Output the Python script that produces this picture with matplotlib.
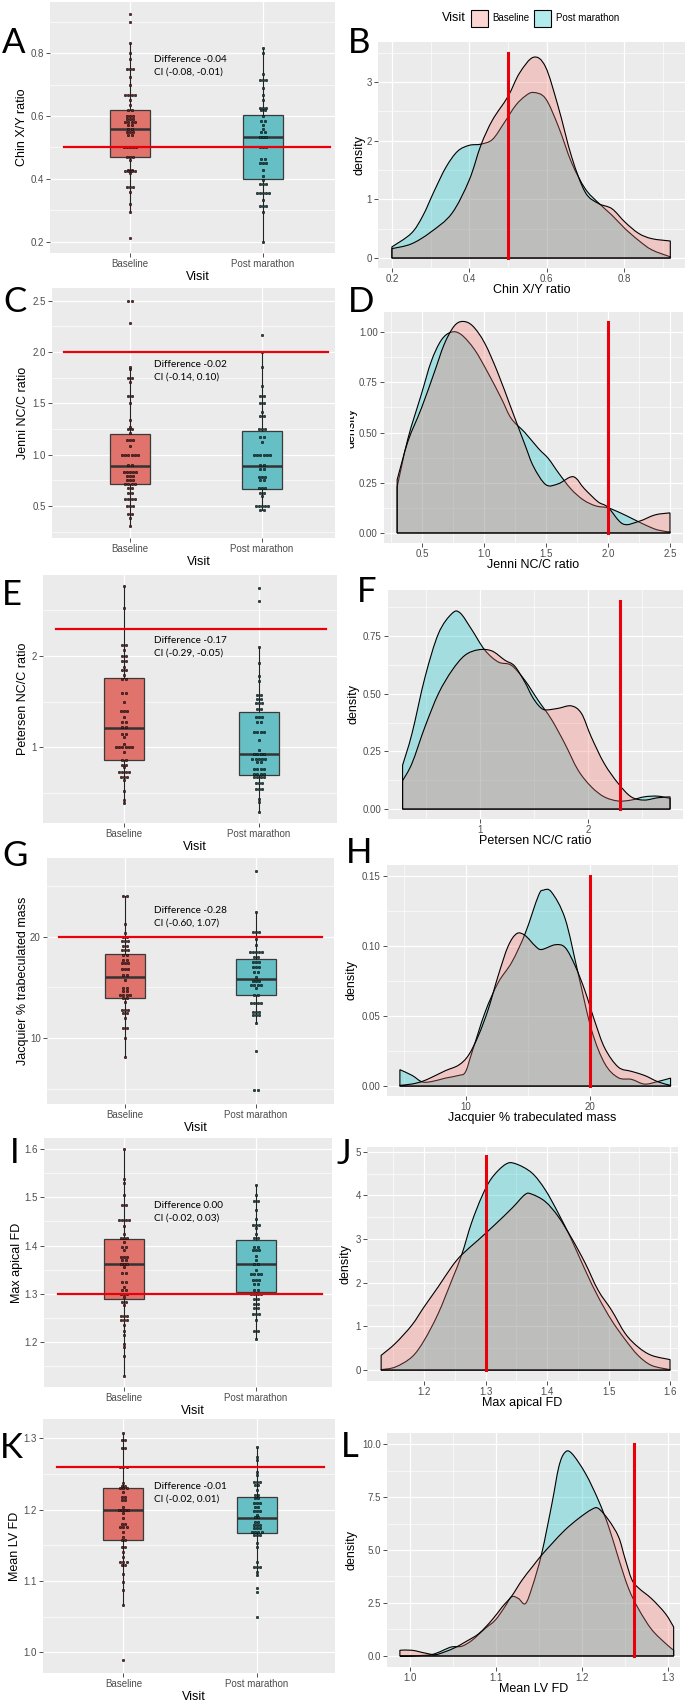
import matplotlib
matplotlib.use("Agg")
import matplotlib.pyplot as plt
from matplotlib.ticker import AutoMinorLocator, FormatStrFormatter
from matplotlib.patches import Rectangle, PathPatch
from matplotlib.path import Path
from matplotlib.colors import to_rgba
import numpy as np

plt.rcParams["font.family"] = ["Liberation Sans", "DejaVu Sans"]

W, H = 689, 1702
visits = ["Baseline", "Post marathon"]

# ---------------- box / dot panels ----------------
# dot values and how many dots are stacked at that value
chin_base_vals = [0.923, 0.898, 0.833, 0.80, 0.78, 0.75, 0.725, 0.70, 0.667, 0.65, 0.635, 0.62, 0.60, 0.59, 0.58,
                  0.57, 0.56, 0.55, 0.54, 0.50, 0.47, 0.46, 0.43, 0.425, 0.42, 0.375, 0.36, 0.32, 0.295, 0.214]
chin_base_n = [1, 1, 1, 1, 1, 3, 1, 1, 4, 1, 1, 2, 3, 3, 4, 2, 2, 3, 2, 5, 3, 1, 2, 4, 1, 3, 1, 1, 1, 1]
chin_post_vals = [0.817, 0.80, 0.734, 0.713, 0.69, 0.666, 0.65, 0.627, 0.618, 0.60, 0.585, 0.57, 0.56, 0.55, 0.533,
                  0.50, 0.465, 0.45, 0.43, 0.41, 0.396, 0.385, 0.356, 0.333, 0.313, 0.295, 0.20]
chin_post_n = [1, 1, 1, 3, 1, 1, 1, 3, 2, 1, 2, 1, 1, 2, 3, 3, 2, 3, 1, 1, 1, 3, 5, 1, 3, 1, 1]
# box stats: lower whisker, q1, median, q3, upper whisker
chin_box_base = [0.295, 0.47, 0.56, 0.618, 0.833]
chin_box_post = [0.20, 0.40, 0.533, 0.602, 0.817]

jenni_base_vals = [2.5, 2.286, 1.857, 1.83, 1.75, 1.71, 1.57, 1.5, 1.333, 1.27, 1.25, 1.21, 1.143, 1.08, 1.0, 0.9,
                   0.83, 0.79, 0.75, 0.71, 0.67, 0.625, 0.57, 0.5, 0.42, 0.38, 0.3]
jenni_base_n = [2, 1, 1, 1, 2, 1, 2, 1, 1, 1, 2, 1, 3, 1, 6, 2, 5, 3, 3, 4, 2, 2, 4, 3, 2, 1, 1]
jenni_post_vals = [2.167, 2.0, 1.857, 1.667, 1.57, 1.5, 1.42, 1.375, 1.25, 1.167, 1.125, 1.0, 0.9, 0.857, 0.778,
                   0.75, 0.67, 0.63, 0.6, 0.5, 0.46]
jenni_post_n = [1, 1, 1, 1, 2, 2, 1, 2, 3, 2, 1, 6, 2, 2, 3, 2, 3, 2, 1, 5, 2]
jenni_box_base = [0.3, 0.71, 0.893, 1.2, 1.857]
jenni_box_post = [0.46, 0.666, 0.893, 1.23, 2.0]

pet_base_vals = [2.77, 2.526, 2.12, 2.066, 2.0, 1.94, 1.88, 1.846, 1.79, 1.75, 1.59, 1.5, 1.4, 1.33, 1.275, 1.22,
                 1.147, 1.11, 1.037, 1.0, 0.945, 0.853, 0.805, 0.78, 0.725, 0.667, 0.64, 0.52, 0.42, 0.38]
pet_base_n = [1, 1, 2, 1, 2, 2, 1, 2, 1, 2, 2, 1, 3, 1, 2, 2, 2, 1, 1, 6, 1, 2, 2, 1, 4, 3, 1, 1, 1, 1]
pet_post_vals = [2.746, 2.607, 2.096, 1.92, 1.78, 1.724, 1.57, 1.53, 1.48, 1.42, 1.33, 1.275, 1.165, 1.074, 0.963,
                 0.926, 0.87, 0.835, 0.76, 0.706, 0.667, 0.6, 0.54, 0.43, 0.393, 0.283]
pet_post_n = [1, 1, 1, 1, 1, 1, 2, 2, 3, 2, 3, 2, 4, 1, 1, 4, 5, 2, 4, 4, 4, 3, 3, 1, 1, 1]
pet_box_base = [0.38, 0.853, 1.21, 1.76, 2.77]
pet_box_post = [0.283, 0.69, 0.926, 1.386, 2.096]

jac_base_vals = [24.03, 21.3, 20.4, 20.0, 19.6, 19.1, 18.7, 18.2, 17.7, 17.4, 16.8, 16.2, 15.7, 14.9, 14.6, 14.26,
                 14.0, 13.6, 12.8, 12.46, 11.97, 11.0, 10.0, 8.13]
jac_base_n = [2, 1, 1, 2, 3, 2, 3, 2, 2, 3, 3, 2, 1, 2, 2, 4, 2, 1, 3, 2, 1, 2, 1, 1]
jac_post_vals = [26.56, 22.46, 20.5, 19.8, 19.2, 18.5, 18.0, 17.5, 17.05, 16.56, 16.07, 15.6, 15.25, 14.9, 14.26,
                 13.44, 12.6, 12.3, 11.5, 8.7, 4.9]
jac_post_n = [1, 1, 3, 1, 1, 5, 2, 3, 3, 2, 1, 3, 4, 1, 2, 4, 3, 3, 1, 1, 2]
jac_box_base = [8.13, 13.93, 16.07, 18.26, 24.03]
jac_box_post = [11.5, 14.26, 15.84, 17.8, 22.46]

apical_base_vals = [1.6, 1.538, 1.53, 1.505, 1.484, 1.454, 1.44, 1.425, 1.415, 1.408, 1.398, 1.39, 1.377, 1.37,
                    1.361, 1.356, 1.343, 1.325, 1.314, 1.307, 1.3, 1.294, 1.283, 1.276, 1.255, 1.245, 1.235, 1.224,
                    1.214, 1.197, 1.19, 1.172, 1.13]
apical_base_n = [1, 1, 1, 1, 2, 4, 1, 1, 3, 1, 2, 1, 3, 2, 3, 1, 2, 2, 1, 2, 3, 1, 2, 1, 3, 3, 1, 1, 1, 1, 1, 1, 1]
apical_post_vals = [1.526, 1.505, 1.493, 1.474, 1.456, 1.443, 1.436, 1.425, 1.415, 1.398, 1.39, 1.378, 1.37, 1.361,
                    1.35, 1.341, 1.328, 1.321, 1.307, 1.3, 1.29, 1.28, 1.27, 1.259, 1.245, 1.224, 1.207]
apical_post_n = [1, 1, 2, 1, 1, 3, 1, 1, 2, 2, 3, 1, 1, 2, 1, 4, 3, 2, 2, 4, 2, 2, 2, 3, 1, 2, 1]
apical_box_base = [1.13, 1.29, 1.361, 1.414, 1.6]
apical_box_post = [1.207, 1.304, 1.361, 1.412, 1.526]

lv_base_vals = [1.308, 1.298, 1.286, 1.26, 1.237, 1.233, 1.23, 1.225, 1.218, 1.214, 1.204, 1.2, 1.195, 1.188, 1.18,
                1.176, 1.169, 1.161, 1.157, 1.148, 1.141, 1.134, 1.127, 1.122, 1.11, 1.098, 1.087, 1.066, 0.989]
lv_base_n = [1, 2, 2, 3, 1, 2, 3, 1, 2, 2, 1, 4, 1, 1, 2, 3, 1, 1, 2, 2, 1, 1, 3, 2, 1, 1, 1, 1, 1]
lv_post_vals = [1.288, 1.274, 1.27, 1.253, 1.249, 1.239, 1.235, 1.228, 1.22, 1.216, 1.209, 1.204, 1.198, 1.193,
                1.189, 1.183, 1.179, 1.174, 1.169, 1.165, 1.153, 1.148, 1.127, 1.12, 1.113, 1.108, 1.09, 1.085, 1.05]
lv_post_n = [1, 1, 1, 1, 1, 3, 2, 1, 2, 2, 3, 2, 3, 1, 2, 2, 3, 3, 4, 3, 1, 1, 1, 3, 1, 1, 1, 1, 1]
lv_box_base = [1.066, 1.157, 1.2, 1.23, 1.308]
lv_box_post = [1.108, 1.167, 1.188, 1.217, 1.288]

# reference lines and difference notes
ref_values = [0.5, 2.0, 2.3, 20, 1.3, 1.26]
notes = ["Difference -0.04\nCI (-0.08, -0.01)",
         "Difference -0.02\nCI (-0.14, 0.10)",
         "Difference -0.17\nCI (-0.29, -0.05)",
         "Difference -0.28\nCI (-0.60, 1.07)",
         "Difference 0.00\nCI (-0.02, 0.03)",
         "Difference -0.01\nCI (-0.02, 0.01)"]
measures = ["Chin X/Y ratio", "Jenni NC/C ratio", "Petersen NC/C ratio",
            "Jacquier % trabeculated mass", "Max apical FD", "Mean LV FD"]

# ---------------- density curves ----------------
chin_kx_base = [0.20, 0.25, 0.30, 0.355, 0.40, 0.43, 0.46, 0.50, 0.53, 0.566, 0.597, 0.63, 0.665, 0.70, 0.734,
                0.769, 0.803, 0.838, 0.872, 0.92]
chin_ky_base = [0.16, 0.24, 0.44, 0.76, 1.33, 1.92, 2.35, 2.75, 3.15, 3.42, 3.26, 2.58, 1.72, 1.12, 0.93,
                0.84, 0.61, 0.42, 0.33, 0.29]
chin_kx_post = [0.20, 0.25, 0.28, 0.31, 0.34, 0.37, 0.40, 0.43, 0.46, 0.49, 0.52, 0.545, 0.566, 0.597, 0.63,
                0.665, 0.70, 0.734, 0.769, 0.803, 0.838, 0.872, 0.92]
chin_ky_post = [0.19, 0.42, 0.72, 1.15, 1.55, 1.82, 1.92, 1.94, 2.02, 2.30, 2.60, 2.76, 2.82, 2.72, 2.25,
                1.62, 1.18, 0.94, 0.73, 0.50, 0.30, 0.14, 0.02]

jenni_kx_base = [0.30, 0.387, 0.495, 0.60, 0.68, 0.76, 0.83, 0.91, 1.006, 1.11, 1.22, 1.33, 1.40, 1.50, 1.60,
                 1.72, 1.81, 1.92, 2.0, 2.12, 2.25, 2.38, 2.5]
jenni_ky_base = [0.265, 0.456, 0.62, 0.80, 0.94, 1.03, 1.053, 1.03, 0.945, 0.80, 0.62, 0.44, 0.33, 0.24, 0.245,
                 0.28, 0.22, 0.155, 0.128, 0.045, 0.058, 0.09, 0.10]
jenni_kx_post = [0.30, 0.387, 0.495, 0.575, 0.656, 0.737, 0.818, 0.925, 1.03, 1.14, 1.22, 1.33, 1.44, 1.52, 1.60,
                 1.70, 1.80, 1.90, 2.0, 2.1, 2.2, 2.3, 2.4, 2.5]
jenni_ky_post = [0.23, 0.47, 0.69, 0.854, 0.96, 1.00, 0.987, 0.912, 0.80, 0.67, 0.57, 0.50, 0.42, 0.37, 0.30,
                 0.22, 0.165, 0.135, 0.125, 0.10, 0.07, 0.04, 0.015, 0.005]

pet_kx_base = [0.283, 0.37, 0.49, 0.615, 0.74, 0.86, 0.985, 1.11, 1.23, 1.32, 1.415, 1.48, 1.54, 1.60, 1.72,
               1.846, 1.94, 2.03, 2.15, 2.28, 2.40, 2.52, 2.645, 2.76]
pet_ky_base = [0.123, 0.198, 0.356, 0.50, 0.60, 0.666, 0.69, 0.685, 0.645, 0.62, 0.55, 0.49, 0.45, 0.43, 0.436,
               0.447, 0.414, 0.313, 0.198, 0.111, 0.053, 0.039, 0.049, 0.053]
pet_kx_post = [0.283, 0.37, 0.49, 0.615, 0.74, 0.815, 0.92, 1.046, 1.17, 1.29, 1.415, 1.54, 1.66, 1.785, 1.908,
               2.03, 2.15, 2.28, 2.40, 2.52, 2.645, 2.76]
pet_ky_post = [0.19, 0.327, 0.57, 0.76, 0.847, 0.85, 0.78, 0.688, 0.637, 0.623, 0.558, 0.47, 0.39, 0.284, 0.169,
               0.097, 0.053, 0.035, 0.039, 0.053, 0.056, 0.046]

jac_kx_base = [4.67, 5.66, 6.46, 7.27, 8.34, 9.41, 10.2, 11.0, 11.8, 12.6, 13.4, 14.1, 14.77, 15.6, 16.1, 17.2,
               18.0, 18.8, 19.6, 20.4, 21.2, 22.28, 23.35, 24.4, 25.5, 26.5]
jac_ky_base = [0.0005, 0.0015, 0.0033, 0.0064, 0.011, 0.015, 0.022, 0.036, 0.055, 0.079, 0.10, 0.109, 0.1076,
               0.10, 0.0976, 0.101, 0.099, 0.086, 0.068, 0.046, 0.027, 0.0136, 0.0105, 0.0076, 0.003, 0.0005]
jac_kx_post = [4.67, 5.66, 6.46, 7.27, 8.34, 9.41, 9.95, 10.48, 11.55, 12.6, 13.7, 14.77, 15.84, 16.25, 16.9, 18.0,
               19.06, 20.13, 21.2, 22.28, 23.35, 24.4, 25.5, 26.5]
jac_ky_post = [0.0117, 0.0076, 0.003, 0.0033, 0.0057, 0.0076, 0.01, 0.024, 0.053, 0.074, 0.0886, 0.109, 0.136,
               0.140, 0.1386, 0.1195, 0.08, 0.04, 0.016, 0.006, 0.0048, 0.0014, 0.0033, 0.0057]

apical_kx_base = [1.130, 1.153, 1.18, 1.20, 1.223, 1.245, 1.261, 1.288, 1.315, 1.343, 1.364, 1.375, 1.397, 1.418,
                  1.44, 1.462, 1.483, 1.505, 1.527, 1.548, 1.57, 1.60]
apical_ky_base = [0.337, 0.61, 1.03, 1.45, 1.91, 2.37, 2.64, 2.98, 3.33, 3.71, 4.02, 4.03, 3.86, 3.52, 3.02, 2.45,
                  1.83, 1.37, 0.84, 0.53, 0.337, 0.24]
apical_kx_post = [1.130, 1.153, 1.18, 1.20, 1.223, 1.245, 1.261, 1.277, 1.294, 1.31, 1.332, 1.348, 1.375, 1.397,
                  1.418, 1.44, 1.462, 1.483, 1.505, 1.527, 1.548, 1.57, 1.60]
apical_ky_post = [0.01, 0.07, 0.30, 0.68, 1.3, 2.06, 2.64, 3.37, 3.98, 4.40, 4.71, 4.73, 4.52, 4.13, 3.6, 2.98,
                  2.29, 1.68, 1.14, 0.70, 0.337, 0.107, 0.01]

lv_kx_base = [0.988, 1.002, 1.017, 1.029, 1.04, 1.052, 1.064, 1.08, 1.095, 1.107, 1.118, 1.13, 1.142, 1.153, 1.165,
              1.18, 1.196, 1.211, 1.219, 1.231, 1.2425, 1.25, 1.258, 1.266, 1.281, 1.297, 1.3066]
lv_ky_base = [0.27, 0.27, 0.14, 0.06, 0.19, 0.39, 0.66, 1.06, 1.69, 2.31, 2.82, 3.57, 4.2, 4.76, 5.3, 5.94, 6.49,
              6.91, 6.96, 6.41, 5.62, 4.6, 3.6, 3.2, 2.7, 2.0, 1.37]
lv_kx_post = [0.988, 1.017, 1.029, 1.04, 1.0485, 1.06, 1.072, 1.087, 1.099, 1.11, 1.118, 1.126, 1.134, 1.142, 1.153,
              1.165, 1.173, 1.18, 1.188, 1.204, 1.219, 1.231, 1.2425, 1.254, 1.266, 1.281, 1.297, 1.3066]
lv_ky_post = [0.0, 0.03, 0.11, 0.3, 0.43, 0.46, 0.74, 1.29, 1.69, 2.31, 2.79, 2.71, 2.47, 3.26, 4.83, 7.2, 8.93,
              9.6, 9.56, 8.61, 7.35, 6.1, 4.6, 3.2, 2.2, 1.25, 0.6, 0.27]

dens_ref_top = [3.5, 1.05, 0.9, 0.15, 4.9, 10.0]

# ---------------- styling ----------------
BG = "#EBEBEB"
PINK = "#F8766D"
TEAL = "#00BFC4"
RED = "#E8000B"
BOX_FILL = ["#E0736C", "#66BFC4"]
DOT_FILL = ["#6a2a27", "#1d4e50"]
ALPHA = 0.3

fig = plt.figure(figsize=(W / 100, H / 100), dpi=100)


def rect(x0, y0, x1, y1):
    return [x0 / W, 1 - y1 / H, (x1 - x0) / W, (y1 - y0) / H]


def ftext(x, y, s, **kw):
    fig.text(x / W, 1 - y / H, s, **kw)


def style(ax):
    ax.set_facecolor(BG)
    for s in ax.spines.values():
        s.set_visible(False)
    ax.grid(which="major", color="white", lw=0.9)
    ax.grid(which="minor", color="white", lw=0.45)
    ax.set_axisbelow(True)
    ax.tick_params(which="major", length=3, width=0.6, color="#333333", labelsize=7,
                   labelcolor="#4D4D4D", pad=1.5)
    ax.tick_params(which="minor", length=0)


def density_patch(xs, ys, color):
    # closed outline: base line, then smooth curve through the read points
    pts = np.column_stack([xs, ys])
    verts = [(xs[0], 0.0), (xs[0], ys[0])]
    codes = [Path.MOVETO, Path.LINETO]
    n = len(pts)
    for k in range(n - 1):
        p0 = pts[max(k - 1, 0)]
        p1, p2 = pts[k], pts[k + 1]
        p3 = pts[min(k + 2, n - 1)]
        c1 = p1 + (p2 - p0) / 6
        c2 = p2 - (p3 - p1) / 6
        verts += [tuple(c1), tuple(c2), tuple(p2)]
        codes += [Path.CURVE4] * 3
    verts += [(xs[-1], 0.0), (xs[0], 0.0)]
    codes += [Path.LINETO, Path.CLOSEPOLY]
    return PathPatch(Path(verts, codes), facecolor=to_rgba(color, ALPHA), edgecolor="black", lw=0.8, zorder=2)


# left column: panel pixel boxes, limits, ticks
box_layout = [
    dict(box=(50, 2, 335, 253), xlim=(0.398, 2.541), ylim=(0.165, 0.962), yticks=[0.2, 0.4, 0.6, 0.8], fmt="%.1f",
         ylab_x=22, note=(154, 55)),
    dict(box=(52, 288, 335, 538), xlim=(0.409, 2.553), ylim=(0.187, 2.624), yticks=[0.5, 1.0, 1.5, 2.0, 2.5],
         fmt="%.1f", ylab_x=23, note=(154, 360)),
    dict(box=(43, 575, 337, 823), xlim=(0.40, 2.578), ylim=(0.165, 2.89), yticks=[1, 2], fmt="%d",
         ylab_x=23, note=(154, 636)),
    dict(box=(47, 858, 334, 1104), xlim=(0.405, 2.595), ylim=(3.47, 27.8), yticks=[10, 20], fmt="%d",
         ylab_x=23, note=(154, 906)),
    dict(box=(44, 1138, 332, 1387), xlim=(0.394, 2.576), ylim=(1.107, 1.623), yticks=[1.2, 1.3, 1.4, 1.5, 1.6],
         fmt="%.1f", ylab_x=17, note=(154, 1201)),
    dict(box=(43, 1419, 335, 1673), xlim=(0.398, 2.586), ylim=(0.971, 1.327), yticks=[1.0, 1.1, 1.2, 1.3],
         fmt="%.1f", ylab_x=15, note=(154, 1482)),
]
box_data = [
    ((chin_base_vals, chin_base_n), (chin_post_vals, chin_post_n), chin_box_base, chin_box_post),
    ((jenni_base_vals, jenni_base_n), (jenni_post_vals, jenni_post_n), jenni_box_base, jenni_box_post),
    ((pet_base_vals, pet_base_n), (pet_post_vals, pet_post_n), pet_box_base, pet_box_post),
    ((jac_base_vals, jac_base_n), (jac_post_vals, jac_post_n), jac_box_base, jac_box_post),
    ((apical_base_vals, apical_base_n), (apical_post_vals, apical_post_n), apical_box_base, apical_box_post),
    ((lv_base_vals, lv_base_n), (lv_post_vals, lv_post_n), lv_box_base, lv_box_post),
]

dens_layout = [
    dict(box=(378, 42, 685, 268), xlim=(0.164, 0.958), ylim=(-0.17, 3.68), xticks=[0.2, 0.4, 0.6, 0.8],
         yticks=[0, 1, 2, 3], xfmt="%.1f", yfmt="%d", ylab_x=359),
    dict(box=(384, 312, 683, 543), xlim=(0.194, 2.605), ylim=(-0.05, 1.10), xticks=[0.5, 1.0, 1.5, 2.0, 2.5],
         yticks=[0, 0.25, 0.5, 0.75, 1.0], xfmt="%.1f", yfmt="%.2f", ylab_x=352),
    dict(box=(388, 590, 683, 819), xlim=(0.148, 2.88), ylim=(-0.043, 0.949), xticks=[1, 2],
         yticks=[0, 0.25, 0.5, 0.75], xfmt="%d", yfmt="%.2f", ylab_x=354),
    dict(box=(387, 865, 678, 1096), xlim=(3.63, 27.1), ylim=(-0.0071, 0.158), xticks=[10, 20],
         yticks=[0, 0.05, 0.10, 0.15], xfmt="%d", yfmt="%.2f", ylab_x=351),
    dict(box=(367, 1147, 678, 1381), xlim=(1.107, 1.613), ylim=(-0.25, 5.11), xticks=[1.2, 1.3, 1.4, 1.5, 1.6],
         yticks=[0, 1, 2, 3, 4, 5], xfmt="%.1f", yfmt="%d", ylab_x=346),
    dict(box=(387, 1433, 680, 1667), xlim=(0.973, 1.314), ylim=(-0.52, 10.52), xticks=[1.0, 1.1, 1.2, 1.3],
         yticks=[0, 2.5, 5.0, 7.5, 10.0], xfmt="%.1f", yfmt="%.1f", ylab_x=351),
]
dens_data = [
    ((chin_kx_base, chin_ky_base), (chin_kx_post, chin_ky_post)),
    ((jenni_kx_base, jenni_ky_base), (jenni_kx_post, jenni_ky_post)),
    ((pet_kx_base, pet_ky_base), (pet_kx_post, pet_ky_post)),
    ((jac_kx_base, jac_ky_base), (jac_kx_post, jac_ky_post)),
    ((apical_kx_base, apical_ky_base), (apical_kx_post, apical_ky_post)),
    ((lv_kx_base, lv_ky_base), (lv_kx_post, lv_ky_post)),
]

letters_left = [("A", 2, 53), ("C", 3, 312), ("E", 2, 605), ("G", 2, 866), ("I", 10, 1163), ("K", 0, 1458)]
letters_right = [("B", 348, 53), ("D", 348, 312), ("F", 357, 602), ("H", 346, 863), ("J", 337, 1164),
                 ("L", 341, 1457)]

# ---------------- left column ----------------
for i in range(6):
    lay = box_layout[i]
    dots_b, dots_p, sb, sp = box_data[i]
    ax = fig.add_axes(rect(*lay["box"]))
    style(ax)
    stats = [dict(whislo=b[0], q1=b[1], med=b[2], q3=b[3], whishi=b[4]) for b in (sb, sp)]
    bp = ax.bxp(stats, positions=[1, 2], widths=0.3, showfliers=False, showcaps=False, patch_artist=True,
                manage_ticks=False,
                boxprops=dict(edgecolor="#3a3a3a", lw=0.9),
                whiskerprops=dict(color="#222222", lw=0.8),
                medianprops=dict(color="#333333", lw=1.8))
    for patch, c in zip(bp["boxes"], BOX_FILL):
        patch.set_facecolor(c)
    for pos, (vals, counts), fc in zip([1, 2], (dots_b, dots_p), DOT_FILL):
        for v, n in zip(vals, counts):
            off = (np.arange(n) - (n - 1) / 2) * 0.024
            ax.scatter(pos + off, [v] * n, s=3.2, facecolor=fc, edgecolor="black", lw=0.35, zorder=3)
    ax.plot([0.5, 2.5], [ref_values[i]] * 2, color=RED, lw=1.6, zorder=4)
    ax.set_xlim(lay["xlim"])
    ax.set_ylim(lay["ylim"])
    ax.set_xticks([1, 2])
    ax.set_xticklabels(visits)
    ax.set_yticks(lay["yticks"])
    ax.yaxis.set_major_formatter(FormatStrFormatter(lay["fmt"]))
    ax.yaxis.set_minor_locator(AutoMinorLocator(2))

    x0, y0, x1, y1 = lay["box"]
    ftext(lay["note"][0], lay["note"][1], notes[i], family="Lato", fontsize=7.2, va="top", ha="left",
          linespacing=1.45, color="black")
    ftext(lay["ylab_x"], (y0 + y1) / 2, measures[i], rotation=90, fontsize=9, ha="center", va="center")
    ftext((x0 + x1) / 2 + 5, y1 + 24, "Visit", fontsize=9, ha="center", va="center")

# ---------------- right column ----------------
for i in range(6):
    lay = dens_layout[i]
    ax = fig.add_axes(rect(*lay["box"]))
    style(ax)
    # post marathon first so the overlap blends to grey as in the original
    for (xs, ys), c in zip(dens_data[i][::-1], [TEAL, PINK]):
        ax.add_patch(density_patch(xs, ys, c))
    ax.plot([ref_values[i]] * 2, [0, dens_ref_top[i]], color=RED, lw=2.2, zorder=3)
    ax.set_xlim(lay["xlim"])
    ax.set_ylim(lay["ylim"])
    ax.set_xticks(lay["xticks"])
    ax.set_yticks(lay["yticks"])
    ax.xaxis.set_major_formatter(FormatStrFormatter(lay["xfmt"]))
    ax.yaxis.set_major_formatter(FormatStrFormatter(lay["yfmt"]))
    ax.xaxis.set_minor_locator(AutoMinorLocator(2))
    ax.yaxis.set_minor_locator(AutoMinorLocator(2))

    x0, y0, x1, y1 = lay["box"]
    ftext(lay["ylab_x"], (y0 + y1) / 2, "density", rotation=90, fontsize=9, ha="center", va="center")
    ftext((x0 + x1) / 2, y1 + 22, measures[i], fontsize=9, ha="center", va="center")

# D's density label is partly hidden in the original
fig.add_artist(Rectangle((336 / W, 1 - 560 / H), 14 / W, 260 / H, transform=fig.transFigure,
                         facecolor="white", edgecolor="none", zorder=10))

# legend on top of B
ftext(442, 18, "Visit", fontsize=9, ha="left", va="center")
for (kx, tx, label), c in zip([(471, 492, visits[0]), (534, 556, visits[1])], [PINK, TEAL]):
    fig.add_artist(Rectangle((kx / W, 1 - 27 / H), 17 / W, 17 / H, transform=fig.transFigure,
                             facecolor=to_rgba(c, ALPHA), edgecolor="black", lw=0.8))
    ftext(tx, 18, label, fontsize=7, ha="left", va="center", color="black")

for lab, x, y in letters_left + letters_right:
    ftext(x, y, lab, family="Lato", fontsize=25, ha="left", va="baseline", zorder=11)

fig.savefig("out.png", dpi=100)
